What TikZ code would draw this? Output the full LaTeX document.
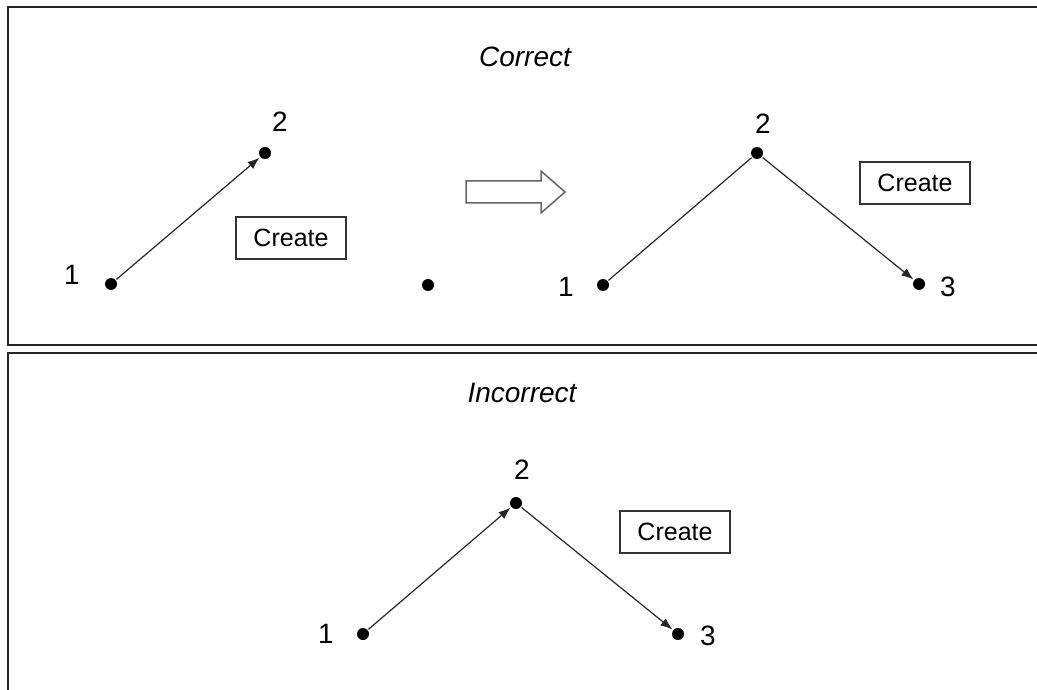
\documentclass[tikz,border=0pt]{standalone}
\usepackage{fontspec}
\setmainfont{Liberation Sans}
\usetikzlibrary{arrows.meta}
\tikzset{
  dot/.style={circle,fill=black,inner sep=0pt,minimum size=12pt},
  lbl/.style={font=\fontsize{28}{32}\selectfont,inner sep=0pt},
  ttl/.style={font=\fontsize{28}{33}\selectfont\itshape,inner sep=0pt},
  createbox/.style={draw=black!80,line width=1.2pt,minimum width=110pt,minimum height=42pt,inner sep=0pt,font=\fontsize{25}{29}\selectfont},
  conn/.style={draw=black!85,line width=1.2pt,shorten <=1pt,shorten >=1pt},
  arr/.style={conn,-{Latex[length=12pt,width=9pt]}},
  panel/.style={draw=black!85,line width=1.6pt}
}
\begin{document}
\begin{tikzpicture}[x=1pt,y=-1pt]
\useasboundingbox (0,0) rectangle (1037,690);
% panels
\draw[panel] (8,7) rectangle (1045,345);
\draw[panel] (8,353) rectangle (1045,700);
% top panel
\node[ttl] (tc) at (525,57) {Correct};
\node[dot] (a1) at (111,284) {};
\node[dot] (a2) at (265,153) {};
\node[lbl] (la1) at (72,275) {1};
\node[lbl] (la2) at (280,122) {2};
\draw[arr] (a1) -- (a2);
\node[createbox] (ca) at (291,238) {Create};
\node[dot] (a3) at (428,285) {};
% hollow arrow
\draw[draw=black!60,line width=1.5pt,line join=miter]
  (466,181) -- (541,181) -- (541,171) -- (565,192) -- (541,213) -- (541,203) -- (466,203) -- cycle;
\node[dot] (b1) at (603,285) {};
\node[dot] (b2) at (757,153) {};
\node[dot] (b3) at (919,284) {};
\node[lbl] (lb1) at (566,287) {1};
\node[lbl] (lb2) at (763,124) {2};
\node[lbl] (lb3) at (948,287) {3};
\draw[conn] (b1) -- (b2);
\draw[arr] (b2) -- (b3);
\node[createbox] (cb) at (915,183) {Create};
% bottom panel
\node[ttl] (ti) at (522,393) {Incorrect};
\node[dot] (c1) at (363,634) {};
\node[dot] (c2) at (516,503) {};
\node[dot] (c3) at (678,634) {};
\node[lbl] (lc1) at (326,634) {1};
\node[lbl] (lc2) at (522,470) {2};
\node[lbl] (lc3) at (708,636) {3};
\draw[arr] (c1) -- (c2);
\draw[arr] (c2) -- (c3);
\node[createbox] (cc) at (675,532) {Create};
\end{tikzpicture}
\end{document}
